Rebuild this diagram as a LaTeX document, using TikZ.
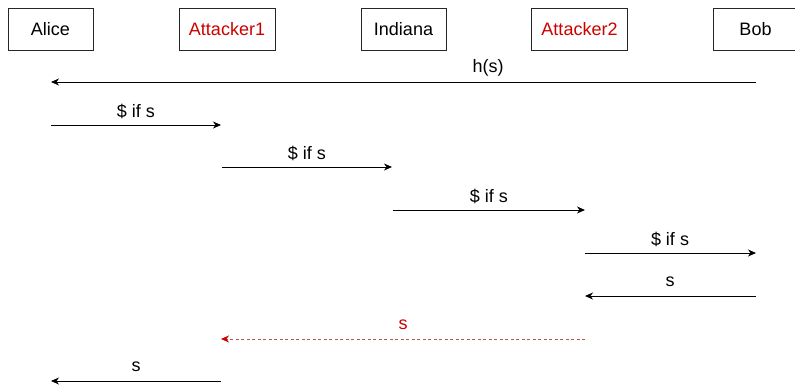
\documentclass[tikz,border=0pt]{standalone}
\usepackage{fontspec}
\setmainfont{Liberation Sans}
\usetikzlibrary{arrows.meta}
\definecolor{attred}{HTML}{CC0000}
\definecolor{dotred}{HTML}{B85450}
\tikzset{
  actor/.style={draw=black!85, line width=0.9pt, minimum width=85pt, minimum height=42pt,
                inner sep=0pt, font=\fontsize{18}{21}\selectfont},
  evil/.style={actor, minimum width=96pt, text=attred},
  msg/.style={draw=black, line width=1pt, -{Stealth[length=8pt,width=7pt,inset=2.5pt]}},
  leak/.style={draw=dotred, line width=1pt, dash pattern=on 3pt off 2.5pt,
               -{Stealth[length=8pt,width=7pt,inset=2.5pt,color=attred]}},
  lbl/.style={font=\fontsize{18}{21}\selectfont, inner sep=0pt}
}
\begin{document}
\begin{tikzpicture}[x=1pt,y=-1pt]
  \useasboundingbox (0,0) rectangle (795,386);

  % participants
  \node[actor] (alice)  at (50.5,29)  {Alice};
  \node[evil]  (att1)   at (227,29)   {Attacker1};
  \node[actor] (ind)    at (403.5,29) {Indiana};
  \node[evil]  (att2)   at (579.5,29) {Attacker2};
  \node[actor] (bob)    at (755.5,29) {Bob};

  % message end points
  \coordinate (h1) at (756,82);   \coordinate (h2) at (51,82);
  \coordinate (p1a) at (51,125);  \coordinate (p1b) at (221,125);
  \coordinate (p2a) at (222,167); \coordinate (p2b) at (392,167);
  \coordinate (p3a) at (393,210); \coordinate (p3b) at (585,210);
  \coordinate (p4a) at (585,253); \coordinate (p4b) at (756,253);
  \coordinate (s1a) at (756,296); \coordinate (s1b) at (585,296);
  \coordinate (r1a) at (585,339); \coordinate (r1b) at (221,339);
  \coordinate (s2a) at (221,381); \coordinate (s2b) at (51,381);

  % messages
  \draw[msg] (h1) -- (h2);
  \node[lbl] (lh) at (488,68) {h(s)};

  \draw[msg] (p1a) -- (p1b);
  \node[lbl] (l1) at (136,111) {\$ if s};
  \draw[msg] (p2a) -- (p2b);
  \node[lbl] (l2) at (307,153) {\$ if s};
  \draw[msg] (p3a) -- (p3b);
  \node[lbl] (l3) at (489,196) {\$ if s};
  \draw[msg] (p4a) -- (p4b);
  \node[lbl] (l4) at (670,239) {\$ if s};

  \draw[msg] (s1a) -- (s1b);
  \node[lbl] (l5) at (670,282) {s};

  \draw[leak] (r1a) -- (r1b);
  \node[lbl, text=attred] (l6) at (403,325) {s};

  \draw[msg] (s2a) -- (s2b);
  \node[lbl] (l7) at (136,367) {s};
\end{tikzpicture}
\end{document}
